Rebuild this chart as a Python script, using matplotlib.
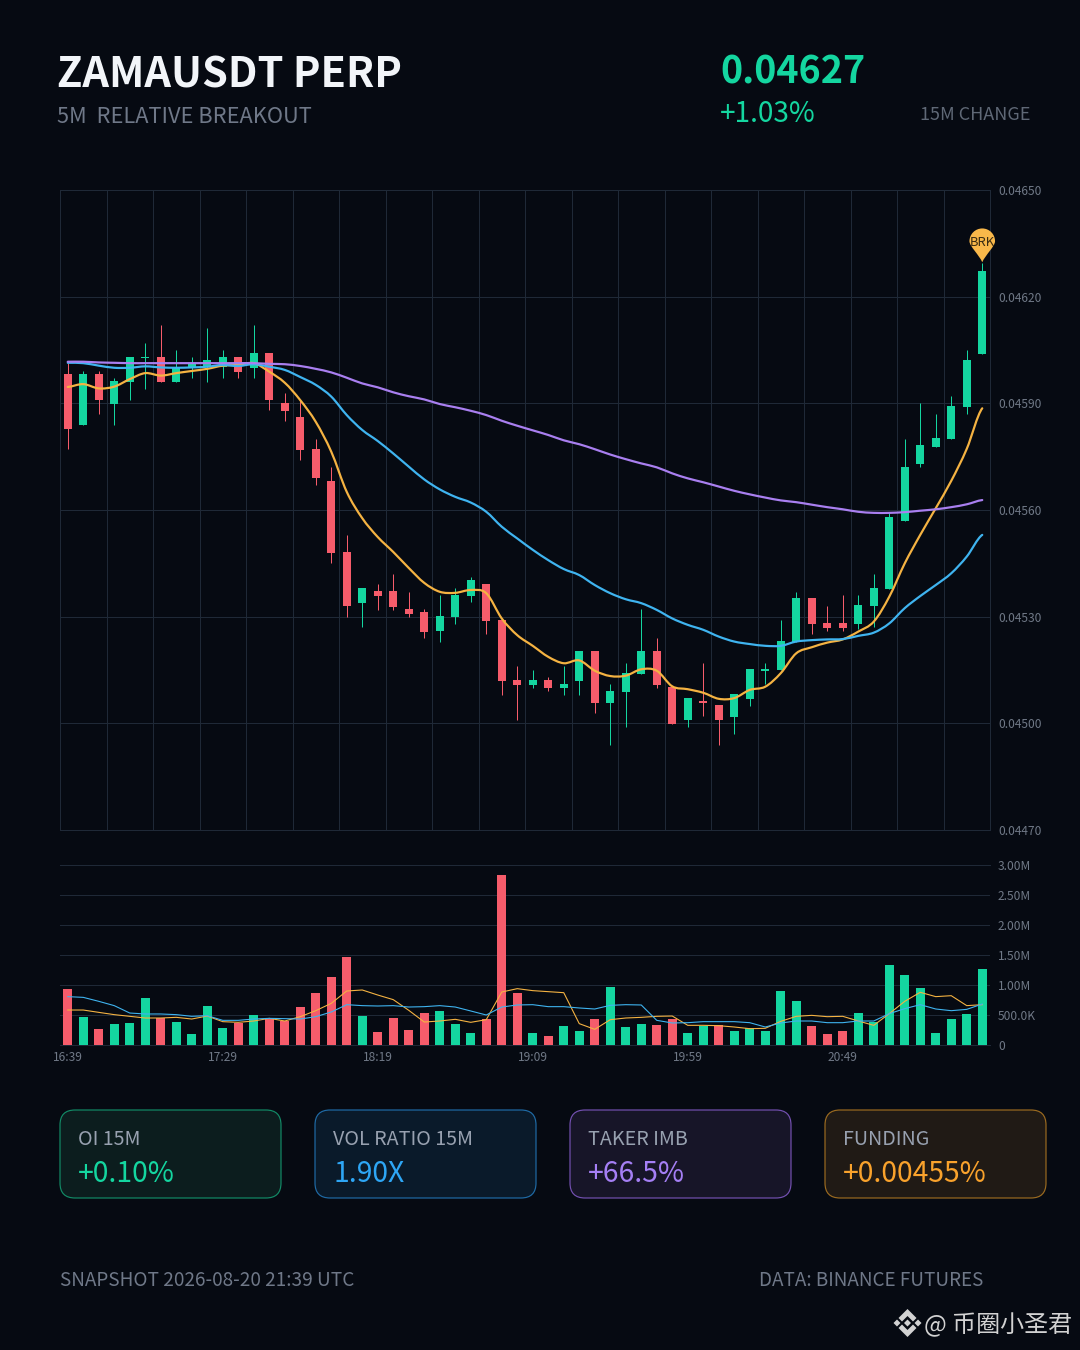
# ZAMAUSDT 5m chart: candles + 3 moving averages, volume panel, stat cards
import matplotlib
matplotlib.use("Agg")
import matplotlib.pyplot as plt
from matplotlib.patches import FancyBboxPatch, PathPatch, Polygon
from matplotlib.path import Path

plt.rcParams['font.family'] = ['Noto Sans CJK SC', 'DejaVu Sans']

# prices are stored x 1e6
open_p = [45982, 45839, 45982, 45899, 45959, 46028, 46031, 45959, 46001, 46001,
          46001, 46031, 45999, 46042, 45901, 45862, 45772, 45682, 45481, 45339,
          45372, 45372, 45322, 45313, 45259, 45299, 45359, 45392, 45292, 45122,
          45109, 45122, 45099, 45119, 45203, 45058, 45089, 45139, 45203, 45101,
          45009, 45063, 45052, 45019, 45069, 45148, 45149, 45229, 45352, 45281,
          45281, 45279, 45330, 45379, 45569, 45729, 45778, 45799, 45889, 46039]
high_p = [46013, 45991, 45991, 45970, 46031, 46071, 46120, 46050, 46030, 46111,
          46050, 46031, 46120, 46042, 45930, 45909, 45800, 45720, 45530, 45382,
          45391, 45420, 45370, 45321, 45361, 45381, 45411, 45392, 45292, 45161,
          45150, 45130, 45161, 45203, 45203, 45111, 45171, 45321, 45240, 45101,
          45071, 45170, 45052, 45082, 45152, 45170, 45291, 45369, 45352, 45330,
          45360, 45360, 45420, 45592, 45800, 45900, 45869, 45921, 46050, 46294]
low_p = [45771, 45839, 45871, 45840, 45910, 45941, 45959, 45959, 45970, 45961,
         45970, 45970, 45970, 45881, 45851, 45741, 45671, 45450, 45300, 45272,
         45320, 45320, 45300, 45241, 45230, 45280, 45340, 45250, 45081, 45009,
         45100, 45091, 45081, 45081, 45030, 44940, 44991, 45139, 45100, 44999,
         44991, 45021, 44940, 44971, 45050, 45111, 45149, 45229, 45251, 45260,
         45260, 45264, 45272, 45379, 45569, 45720, 45778, 45799, 45870, 46039]
close_p = [45829, 45982, 45909, 45962, 46031, 46031, 45959, 46001, 46014, 46022,
           46031, 45989, 46042, 45909, 45879, 45770, 45689, 45479, 45329, 45382,
           45359, 45328, 45308, 45258, 45302, 45361, 45402, 45289, 45119, 45109,
           45122, 45099, 45112, 45203, 45058, 45092, 45141, 45203, 45109, 44999,
           45071, 45058, 45009, 45082, 45152, 45152, 45232, 45352, 45279, 45269,
           45269, 45332, 45381, 45581, 45722, 45782, 45802, 45892, 46022, 46272]

ma_fast = [45946, 45954, 45942, 45947, 45968, 45985, 45978, 45985, 45991, 45997,
           46006, 46008, 46013, 45989, 45958, 45909, 45848, 45764, 45651, 45577,
           45524, 45482, 45437, 45395, 45370, 45367, 45375, 45366, 45295, 45248,
           45218, 45187, 45169, 45177, 45148, 45133, 45134, 45152, 45148, 45104,
           45096, 45086, 45069, 45071, 45094, 45103, 45141, 45197, 45214, 45227,
           45236, 45258, 45286, 45356, 45450, 45530, 45605, 45682, 45772, 45886]
ma_mid = [46014, 46013, 46006, 46000, 46000, 46004, 46001, 46000, 46001, 46003,
          46008, 46005, 46010, 46003, 45994, 45974, 45952, 45919, 45867, 45825,
          45794, 45759, 45722, 45686, 45658, 45637, 45621, 45595, 45553, 45520,
          45488, 45459, 45434, 45417, 45389, 45366, 45349, 45338, 45319, 45295,
          45277, 45263, 45244, 45230, 45223, 45218, 45218, 45230, 45234, 45236,
          45237, 45246, 45255, 45281, 45324, 45358, 45389, 45422, 45469, 45530]
ma_slow = [46017, 46017, 46015, 46014, 46013, 46013, 46013, 46013, 46013, 46013,
           46013, 46013, 46013, 46011, 46010, 46005, 45997, 45987, 45972, 45956,
           45945, 45931, 45920, 45911, 45898, 45889, 45879, 45867, 45851, 45837,
           45824, 45811, 45796, 45785, 45771, 45756, 45743, 45731, 45720, 45703,
           45689, 45678, 45666, 45654, 45644, 45635, 45627, 45622, 45615, 45608,
           45602, 45595, 45592, 45592, 45594, 45598, 45602, 45608, 45616, 45628]

# volume in millions, side of each bar
volume = [0.94, 0.46, 0.27, 0.344, 0.36, 0.79, 0.45, 0.378, 0.178, 0.644,
          0.278, 0.367, 0.50, 0.433, 0.406, 0.633, 0.861, 1.128, 1.461, 0.489,
          0.211, 0.444, 0.25, 0.528, 0.567, 0.356, 0.20, 0.433, 2.833, 0.861,
          0.20, 0.144, 0.317, 0.233, 0.428, 0.967, 0.30, 0.356, 0.333, 0.433,
          0.20, 0.317, 0.333, 0.233, 0.278, 0.233, 0.894, 0.728, 0.311, 0.189,
          0.233, 0.528, 0.378, 1.339, 1.172, 0.944, 0.194, 0.433, 0.517, 1.272]
vol_side = "RGRGGGRGGGGRGRRRRRRGRRRRGGGRRRGRGGRGGGRRGGRGGGGGRRRGGGGGGGGG"
vol_ma_fast = [0.583, 0.583, 0.544, 0.506, 0.478, 0.45, 0.45, 0.461, 0.433, 0.483,
               0.389, 0.378, 0.40, 0.444, 0.40, 0.472, 0.572, 0.694, 0.90, 0.917,
               0.833, 0.756, 0.578, 0.383, 0.40, 0.428, 0.378, 0.422, 0.883, 0.939,
               0.906, 0.889, 0.872, 0.356, 0.261, 0.422, 0.45, 0.461, 0.478, 0.483,
               0.328, 0.328, 0.322, 0.30, 0.272, 0.278, 0.394, 0.478, 0.494, 0.472,
               0.478, 0.40, 0.328, 0.522, 0.728, 0.878, 0.806, 0.822, 0.656, 0.672]
vol_ma_slow = [0.806, 0.794, 0.728, 0.656, 0.533, 0.517, 0.517, 0.506, 0.478, 0.489,
               0.411, 0.411, 0.433, 0.444, 0.439, 0.433, 0.472, 0.55, 0.672, 0.656,
               0.65, 0.656, 0.633, 0.639, 0.656, 0.633, 0.567, 0.50, 0.633, 0.667,
               0.672, 0.639, 0.639, 0.617, 0.60, 0.661, 0.672, 0.667, 0.411, 0.367,
               0.372, 0.389, 0.389, 0.389, 0.372, 0.30, 0.367, 0.40, 0.40, 0.372,
               0.372, 0.40, 0.40, 0.522, 0.606, 0.672, 0.60, 0.572, 0.594, 0.683]

price_ticks = [44700, 45000, 45300, 45600, 45900, 46200, 46500]
vol_ticks = [0, 0.5, 1.0, 1.5, 2.0, 2.5, 3.0]
vol_tick_labels = ["0", "500.0K", "1.00M", "1.50M", "2.00M", "2.50M", "3.00M"]
time_ticks = [0, 10, 20, 30, 40, 50]
time_labels = ["16:39", "17:29", "18:19", "19:09", "19:59", "20:49"]

cards = [("OI 15M", "+0.10%", "#14d6a0", "#0c1d1e", "#128a66"),
         ("VOL RATIO 15M", "1.90X", "#2ea6f5", "#0a1a2a", "#1f6aa5"),
         ("TAKER IMB", "+66.5%", "#a57ff5", "#171528", "#7350b0"),
         ("FUNDING", "+0.00455%", "#f9a22c", "#201a15", "#9a6a20")]

BG = "#060a12"
GRID = "#1f2937"
UP = "#14d6a0"
DOWN = "#f65c6b"
AXIS_TEXT = "#707987"


def px(n):
    # pixel size to points at dpi 100
    return n * 0.72


def smooth_line(axes, x, y, color, width, z):
    # draws through every point with a curve instead of straight pieces
    verts = [(x[0], y[0])]
    codes = [Path.MOVETO]
    for i in range(len(x) - 1):
        y0 = y[max(i - 1, 0)]
        y3 = y[min(i + 2, len(y) - 1)]
        verts.append((x[i] + 1 / 3, y[i] + (y[i + 1] - y0) / 6))
        verts.append((x[i + 1] - 1 / 3, y[i + 1] - (y3 - y[i]) / 6))
        verts.append((x[i + 1], y[i + 1]))
        codes += [Path.CURVE4, Path.CURVE4, Path.CURVE4]
    axes.add_patch(PathPatch(Path(verts, codes), facecolor="none", edgecolor=color,
                             lw=width, capstyle="round", joinstyle="round", zorder=z))


fig = plt.figure(figsize=(10.8, 13.5), dpi=100, facecolor=BG)

# price panel
ax = fig.add_axes([60 / 1080, 1 - 830 / 1350, 930 / 1080, 640 / 1350], facecolor=BG)
n = len(open_p)
xs = list(range(n))
colors = [UP if c >= o else DOWN for o, c in zip(open_p, close_p)]
ax.vlines(xs, low_p, high_p, colors=colors, linewidth=px(1), zorder=2)
ax.bar(xs, [abs(c - o) for o, c in zip(open_p, close_p)],
       bottom=[min(o, c) for o, c in zip(open_p, close_p)],
       width=0.52, color=colors, linewidth=0, zorder=3)
smooth_line(ax, xs, ma_fast, "#f5b342", px(2.2), 4)
smooth_line(ax, xs, ma_mid, "#3fb4f0", px(2.2), 5)
smooth_line(ax, xs, ma_slow, "#a97ff0", px(2.2), 6)
ax.set_xlim(-0.5, 59.5)
ax.set_ylim(44700, 46500)
ax.set_xticks([-0.5 + 3 * k for k in range(21)])
ax.set_xticklabels([])
ax.set_yticks(price_ticks)
ax.set_yticklabels([f"{v / 1e6:.5f}" for v in price_ticks])
ax.yaxis.tick_right()
ax.tick_params(length=0, pad=px(8), labelsize=px(12), labelcolor=AXIS_TEXT)
ax.grid(True, color=GRID, lw=px(1), zorder=0)
ax.set_axisbelow(True)
for s in ax.spines.values():
    s.set_color(GRID)
    s.set_linewidth(px(1))

# volume panel
vax = fig.add_axes([60 / 1080, 1 - 1045 / 1350, 930 / 1080, 180 / 1350], facecolor=BG)
vax.bar(xs, volume, width=0.56, color=[UP if s == "G" else DOWN for s in vol_side],
        linewidth=0, zorder=3)
vax.plot(xs, vol_ma_fast, color="#f5b342", lw=px(1.1), zorder=4)
vax.plot(xs, vol_ma_slow, color="#3fb4f0", lw=px(1.1), zorder=5)
vax.set_xlim(-0.5, 59.5)
vax.set_ylim(0, 3.0)
vax.set_xticks(time_ticks)
vax.set_xticklabels(time_labels)
vax.set_yticks(vol_ticks)
vax.set_yticklabels(vol_tick_labels)
vax.yaxis.tick_right()
vax.tick_params(axis="y", length=0, pad=px(8), labelsize=px(12), labelcolor=AXIS_TEXT)
vax.tick_params(axis="x", length=0, pad=px(6), labelsize=px(12), labelcolor=AXIS_TEXT)
vax.grid(True, axis="y", color=GRID, lw=px(1), zorder=0)
vax.set_axisbelow(True)
for name, s in vax.spines.items():
    s.set_visible(name in ("top", "bottom"))
    s.set_color(GRID)
    s.set_linewidth(px(1))

# full figure overlay in pixel coordinates for header, cards, footer
top = fig.add_axes([0, 0, 1, 1], facecolor="none")
top.set_xlim(0, 1080)
top.set_ylim(1350, 0)
top.axis("off")

top.text(57, 88, "ZAMAUSDT PERP", color="#f2f5f9", fontsize=px(41.5), fontweight="bold")
top.text(57, 123, "5M  RELATIVE BREAKOUT", color="#6f7888", fontsize=px(21.8))
top.text(720, 84, "0.04627", color=UP, fontsize=px(37.7), fontweight="bold")
top.text(720, 122, "+1.03%", color=UP, fontsize=px(28))
top.text(1030, 120, "15M CHANGE", color="#5f6876", fontsize=px(18), ha="right")

# breakout pin sits on the high of the last candle
tip = top.transData.inverted().transform(ax.transData.transform((59, high_p[59])))
tx, ty = tip[0], tip[1] - 1
r = 12.8
cy = ty - 21
k = 0.5523 * r
pin = Path([(tx, ty), (tx - 3, cy + r + 1), (tx - r, cy + 5), (tx - r, cy),
            (tx - r, cy - k), (tx - k, cy - r), (tx, cy - r),
            (tx + k, cy - r), (tx + r, cy - k), (tx + r, cy),
            (tx + r, cy + 5), (tx + 3, cy + r + 1), (tx, ty)],
           [Path.MOVETO, Path.CURVE4, Path.CURVE4, Path.CURVE4,
            Path.CURVE4, Path.CURVE4, Path.CURVE4,
            Path.CURVE4, Path.CURVE4, Path.CURVE4,
            Path.CURVE4, Path.CURVE4, Path.CURVE4])
top.add_patch(PathPatch(pin, facecolor="#f9b84a", edgecolor="none", zorder=8))
top.text(tx, cy + 5, "BRK", color="#3a2c12", fontsize=px(13), ha="center", zorder=9)

# stat cards
for i, (label, value, col, fill, edge) in enumerate(cards):
    x0 = 60 + i * 255
    top.add_patch(FancyBboxPatch((x0 + 15, 1110 + 15), 221 - 30, 88 - 30,
                                 boxstyle="round,pad=15,rounding_size=15",
                                 facecolor=fill, edgecolor=edge, lw=px(1.2)))
    top.text(x0 + 18, 1145, label, color="#98a1b0", fontsize=px(19.7))
    top.text(x0 + 18, 1182, value, color=col, fontsize=px(28.3))

# footer
top.text(60, 1286, "SNAPSHOT 2026-08-20 21:39 UTC", color="#6f7888", fontsize=px(19))
top.text(983, 1286, "DATA: BINANCE FUTURES", color="#6f7888", fontsize=px(18.9), ha="right")

# watermark
mark = "#d2d2d2"
cx, cy2 = 907.5, 1323
for shape in ([(0, -14), (9, -5), (5.5, -1.5), (0, -7), (-5.5, -1.5), (-9, -5)],
              [(0, 14), (9, 5), (5.5, 1.5), (0, 7), (-5.5, 1.5), (-9, 5)],
              [(-14, 0), (-10.5, -3.5), (-7, 0), (-10.5, 3.5)],
              [(14, 0), (10.5, -3.5), (7, 0), (10.5, 3.5)],
              [(0, -3.5), (3.5, 0), (0, 3.5), (-3.5, 0)]):
    top.add_patch(Polygon([(cx + a, cy2 + b) for a, b in shape], closed=True,
                          facecolor=mark, edgecolor="none"))
top.text(1072, 1332, "@ 币圈小圣君", color=mark, fontsize=px(24), ha="right")

fig.savefig("out.png", dpi=100, facecolor=BG)
